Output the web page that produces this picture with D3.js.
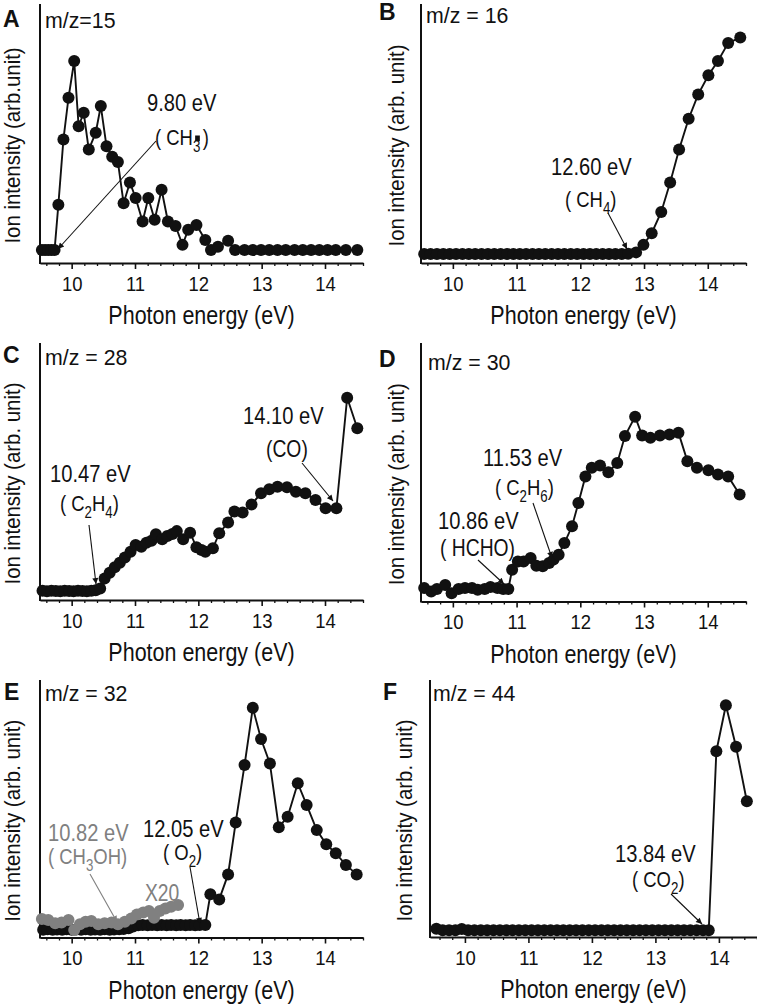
<!DOCTYPE html>
<html><head><meta charset="utf-8">
<script src="https://cdn.jsdelivr.net/npm/d3@7"></script>
<style>body{margin:0;background:#fff}svg{display:block}</style>
</head><body>
<svg id="chart" width="757" height="1008"></svg>
<script>
// ---------------- data ----------------
const xTicks = [10, 11, 12, 13, 14];
const xMinorTicks = [9.6, 9.8, 10.2, 10.4, 10.6, 10.8, 11.2, 11.4, 11.6, 11.8, 12.2, 12.4, 12.6, 12.8, 13.2, 13.4, 13.6, 13.8, 14.2, 14.4, 14.6];

const energyA = [9.53, 9.58, 9.63, 9.68, 9.73, 9.79, 9.87, 9.95, 10.04, 10.11, 10.19, 10.27, 10.38, 10.46, 10.55, 10.64, 10.73, 10.82, 10.92, 11.01, 11.12, 11.21, 11.31, 11.42, 11.52, 11.64, 11.75, 11.84, 11.97, 12.11, 12.20, 12.31, 12.47, 12.58, 12.73, 12.86, 12.99, 13.12, 13.25, 13.38, 13.52, 13.65, 13.78, 13.91, 14.04, 14.17, 14.33, 14.51];
const intensityA = [5, 5, 5, 5, 5, 22.5, 47.7, 63.8, 78.0, 52.8, 58.0, 43.8, 50.3, 60.6, 45.1, 41.0, 39.0, 23.1, 31.1, 25.1, 16.0, 25.1, 16.7, 28.3, 16.0, 14.3, 7.0, 12.8, 14.7, 8.9, 5.0, 6.3, 8.6, 5, 5, 5, 5, 5, 5, 5, 5, 5, 5, 5, 5, 5, 5, 5];

const energyB = [9.55, 9.65, 9.75, 9.85, 9.95, 10.05, 10.15, 10.25, 10.35, 10.45, 10.55, 10.65, 10.75, 10.85, 10.95, 11.05, 11.15, 11.25, 11.35, 11.45, 11.55, 11.65, 11.75, 11.85, 11.95, 12.05, 12.15, 12.25, 12.35, 12.45, 12.55, 12.65, 12.75, 12.875, 12.99, 13.12, 13.27, 13.41, 13.55, 13.70, 13.85, 14.01, 14.16, 14.32, 14.51];
const intensityB = [3.5, 3.5, 3.5, 3.5, 3.5, 3.5, 3.5, 3.5, 3.5, 3.5, 3.5, 3.5, 3.5, 3.5, 3.5, 3.5, 3.5, 3.5, 3.5, 3.5, 3.5, 3.5, 3.5, 3.5, 3.5, 3.5, 3.5, 3.5, 3.5, 3.5, 3.5, 3.5, 3.6, 4.1, 7.0, 11.5, 19.7, 31.1, 43.8, 55.7, 65.1, 72.5, 78.0, 84.9, 87.1];

const energyC = [9.54, 9.61, 9.68, 9.75, 9.82, 9.89, 9.96, 10.03, 10.10, 10.17, 10.24, 10.31, 10.38, 10.45, 10.52, 10.60, 10.68, 10.76, 10.84, 10.93, 11.01, 11.10, 11.18, 11.26, 11.33, 11.43, 11.51, 11.59, 11.66, 11.76, 11.87, 11.97, 12.05, 12.11, 12.23, 12.33, 12.47, 12.57, 12.70, 12.84, 12.99, 13.12, 13.25, 13.40, 13.54, 13.69, 13.85, 14.01, 14.18, 14.35, 14.51];
const intensityC = [3.6, 3.4, 3.6, 3.5, 3.4, 3.6, 3.5, 3.4, 3.6, 3.5, 3.4, 3.6, 3.8, 4.5, 8.4, 10.6, 12.7, 14.5, 16.5, 18.8, 21.4, 20.7, 22.3, 23.1, 25.6, 23.6, 24.9, 25.7, 26.8, 23.6, 26.2, 20.5, 19.5, 18.8, 20.1, 26.0, 30.2, 34.4, 34.0, 37.2, 41.5, 43.1, 44.1, 43.9, 42.1, 41.5, 38.9, 35.7, 35.7, 78.7, 66.8];

const energyD = [9.55, 9.66, 9.75, 9.88, 9.98, 10.09, 10.19, 10.30, 10.39, 10.50, 10.59, 10.70, 10.79, 10.87, 10.93, 11.02, 11.11, 11.22, 11.31, 11.41, 11.51, 11.58, 11.66, 11.75, 11.87, 11.97, 12.08, 12.18, 12.31, 12.44, 12.58, 12.70, 12.86, 12.97, 13.10, 13.25, 13.40, 13.54, 13.68, 13.83, 14.01, 14.16, 14.32, 14.50];
const intensityD = [5.2, 3.9, 4.8, 6.4, 3.2, 4.8, 5.2, 5.2, 4.5, 4.8, 5.6, 5.2, 4.8, 4.8, 12.3, 15.5, 15.5, 16.8, 13.8, 13.6, 14.9, 16.2, 18.1, 22.6, 29.1, 38.1, 48.4, 51.7, 52.6, 50.0, 53.6, 64.0, 71.5, 64.2, 63.3, 64.2, 64.6, 65.3, 54.3, 51.7, 50.8, 49.1, 48.4, 41.4];

const energyE = [9.55, 9.62, 9.70, 9.77, 9.85, 9.92, 10.00, 10.07, 10.15, 10.22, 10.30, 10.37, 10.45, 10.52, 10.60, 10.67, 10.75, 10.82, 10.90, 10.97, 11.05, 11.12, 11.20, 11.27, 11.35, 11.42, 11.50, 11.57, 11.65, 11.72, 11.80, 11.87, 11.95, 12.02, 12.11, 12.19, 12.33, 12.47, 12.59, 12.73, 12.86, 12.99, 13.13, 13.27, 13.41, 13.57, 13.71, 13.87, 14.02, 14.17, 14.33, 14.50];
const intensityE = [3.0, 3.2, 3.0, 3.1, 3.0, 3.2, 3.0, 3.1, 3.0, 3.2, 3.0, 3.1, 3.0, 3.2, 3.0, 3.1, 3.2, 3.3, 3.6, 4.3, 4.8, 4.9, 4.8, 4.9, 4.8, 4.9, 4.8, 4.9, 4.8, 4.9, 4.8, 4.9, 4.8, 4.9, 4.9, 16.8, 14.8, 24.5, 44.7, 67.0, 89.2, 77.1, 67.6, 42.8, 46.9, 59.9, 51.5, 41.7, 36.2, 32.7, 28.2, 24.5];

const energyEx20 = [9.53, 9.63, 9.74, 9.84, 9.95, 10.04, 10.13, 10.22, 10.31, 10.42, 10.52, 10.63, 10.73, 10.84, 10.94, 11.03, 11.13, 11.22, 11.30, 11.39, 11.48, 11.57, 11.68];
const intensityEx20 = [7.2, 6.8, 5.5, 5.8, 6.8, 2.9, 5.1, 6.1, 6.4, 5.1, 5.5, 5.8, 5.1, 6.1, 7.4, 8.9, 9.7, 10.3, 7.7, 10.3, 11.3, 11.9, 12.6];

const energyF = [9.55, 9.65, 9.75, 9.85, 9.95, 10.05, 10.15, 10.25, 10.35, 10.45, 10.55, 10.65, 10.75, 10.85, 10.95, 11.05, 11.15, 11.25, 11.35, 11.45, 11.55, 11.65, 11.75, 11.85, 11.95, 12.05, 12.15, 12.25, 12.35, 12.45, 12.55, 12.65, 12.75, 12.85, 12.95, 13.05, 13.15, 13.25, 13.35, 13.45, 13.55, 13.65, 13.75, 13.84, 13.96, 14.11, 14.27, 14.44];
const intensityF = [3.2, 2.6, 2.6, 2.6, 3.1, 2.6, 2.6, 2.6, 2.6, 2.6, 2.6, 2.6, 2.6, 2.6, 2.6, 2.6, 2.6, 2.6, 2.6, 2.6, 2.6, 2.6, 2.6, 2.6, 2.6, 2.6, 2.6, 2.6, 2.6, 2.6, 2.6, 2.6, 2.6, 2.6, 2.6, 2.6, 2.6, 2.6, 2.6, 2.6, 2.6, 2.6, 2.6, 2.6, 72.3, 90.2, 74.0, 52.8];

// ---------------- drawing ----------------
const svg = d3.select('#chart');
const FONT = 'Liberation Sans, Arial, Helvetica, sans-serif';
const BLACK = '#111';
const GRAY = '#808080';

const defs = svg.append('defs');
[['arrBlack', BLACK], ['arrGray', GRAY]].forEach(([id, c]) => {
  defs.append('marker').attr('id', id).attr('viewBox', '0 0 10 10')
    .attr('refX', 10).attr('refY', 5).attr('markerWidth', 9).attr('markerHeight', 6)
    .attr('markerUnits', 'userSpaceOnUse').attr('orient', 'auto')
    .append('path').attr('d', 'M0,0 L10,5 L0,10 Z').attr('fill', c);
});

function label(g, x, y, parts, opt) {
  const o = Object.assign({size: 24, sx: 0.84, fill: BLACK, anchor: 'start', weight: 'normal', rotate: 0}, opt || {});
  const holder = g.append('g')
    .attr('transform', `translate(${x},${y}) rotate(${o.rotate}) scale(${o.sx},1)`);
  const t = holder.append('text')
    .attr('font-family', FONT).attr('font-size', o.size).attr('font-weight', o.weight)
    .attr('fill', o.fill).attr('text-anchor', o.anchor);
  if (typeof parts === 'string') { t.text(parts); return {holder, t}; }
  let off = 0;
  parts.forEach(p => {
    const target = p.sub ? 7 : 0;
    const s = t.append('tspan').text(p.t).attr('dy', target - off);
    if (p.sub) s.attr('font-size', o.size * 0.72);
    if (p.dx) s.attr('dx', p.dx);
    off = target;
  });
  return {holder, t};
}

function arrow(g, x1, y1, x2, y2, color) {
  g.append('line').attr('x1', x1).attr('y1', y1).attr('x2', x2).attr('y2', y2)
    .attr('stroke', color || BLACK).attr('stroke-width', 1.1)
    .attr('marker-end', `url(#${color === GRAY ? 'arrGray' : 'arrBlack'})`);
}

const panels = [
  {tag: 'A', mz: 'm/z=15', ytitle: 'Ion intensity (arb.unit)', series: [[energyA, intensityA, BLACK]],
   x0: 40, x1: 363, dom: [9.5, 14.6], yb: 263, yt: 4, tagPos: [3, 27], mzPos: [45, 28], yTitleX: 20,
   notes: g => {
     label(g, 147, 111, '9.80 eV');
     const lab = label(g, 155, 145, [{t: '( CH'}, {t: '3', sub: true}, {t: ')', dx: 3}], {size: 22});
     // radical dot above the subscript 3
     const node = lab.t.node();
     const s = node.getStartPositionOfChar(4).x, e = node.getEndPositionOfChar(4).x;
     const cx = (s + e) / 2 + 1;
     lab.holder.append('rect').attr('x', cx - 2.8).attr('y', -9.5).attr('width', 5.6).attr('height', 5.6).attr('fill', BLACK);
     arrow(g, 156, 141, 58, 249);
   }},
  {tag: 'B', mz: 'm/z = 16', ytitle: 'Ion intensity (arb. unit)', series: [[energyB, intensityB, BLACK]],
   x0: 421, x1: 746, dom: [9.5, 14.6], yb: 263, yt: 4, tagPos: [379, 20], mzPos: [426, 23], yTitleX: 404,
   notes: g => {
     label(g, 551, 175, '12.60 eV');
     label(g, 565, 207, [{t: '( CH'}, {t: '4', sub: true}, {t: ')'}], {size: 22});
     arrow(g, 608, 213, 627, 249);
   }},
  {tag: 'C', mz: 'm/z = 28', ytitle: 'Ion intensity (arb. unit)', series: [[energyC, intensityC, BLACK]],
   x0: 40, x1: 363, dom: [9.5, 14.6], yb: 600, yt: 343, tagPos: [3, 363], mzPos: [45, 365], yTitleX: 20,
   notes: g => {
     label(g, 50, 482, '10.47 eV');
     label(g, 60, 511, [{t: '( C'}, {t: '2', sub: true}, {t: 'H'}, {t: '4', sub: true}, {t: ')'}], {size: 22});
     arrow(g, 89, 525, 96, 584);
     label(g, 243, 424, '14.10 eV');
     label(g, 266, 457, '(CO)', {size: 23});
     arrow(g, 302, 463, 333, 501);
   }},
  {tag: 'D', mz: 'm/z = 30', ytitle: 'Ion intensity (arb. unit)', series: [[energyD, intensityD, BLACK]],
   x0: 421, x1: 746, dom: [9.5, 14.6], yb: 601.5, yt: 343, tagPos: [379, 367], mzPos: [428, 370], yTitleX: 404,
   notes: g => {
     label(g, 483, 466, '11.53 eV');
     label(g, 495, 495, [{t: '( C'}, {t: '2', sub: true}, {t: 'H'}, {t: '6', sub: true}, {t: ')'}], {size: 22});
     arrow(g, 533, 503, 552, 558);
     label(g, 438, 529, '10.86 eV');
     label(g, 440, 556, '( HCHO)', {size: 23});
     arrow(g, 478, 560, 504, 584);
   }},
  {tag: 'E', mz: 'm/z = 32', ytitle: 'Ion intensity (arb. unit)', series: [[energyE, intensityE, BLACK], [energyEx20, intensityEx20, GRAY]],
   x0: 40, x1: 363, dom: [9.5, 14.6], yb: 937.5, yt: 680, tagPos: [4, 700], mzPos: [45, 701], yTitleX: 20,
   notes: g => {
     label(g, 48, 841, '10.82 eV', {fill: GRAY});
     label(g, 48, 864, [{t: '( CH'}, {t: '3', sub: true}, {t: 'OH)'}], {size: 22, fill: GRAY});
     arrow(g, 90, 874, 117, 922, GRAY);
     label(g, 145, 901, 'X20', {fill: GRAY, size: 23});
     label(g, 143, 837, '12.05 eV');
     label(g, 163, 860, [{t: '( O'}, {t: '2', sub: true}, {t: ')'}], {size: 22});
     arrow(g, 190, 867, 200, 924);
   }},
  {tag: 'F', mz: 'm/z = 44', ytitle: 'Ion intensity (arb. unit)', series: [[energyF, intensityF, BLACK]],
   x0: 430, x1: 757, dom: [9.45, 14.6], yb: 937, yt: 680, tagPos: [383, 700], mzPos: [433, 701], yTitleX: 412,
   notes: g => {
     label(g, 615, 862, '13.84 eV');
     label(g, 632, 887, [{t: '( CO'}, {t: '2', sub: true}, {t: ')'}], {size: 22});
     arrow(g, 671, 894, 702, 924);
   }}
];

panels.forEach(p => {
  const g = svg.append('g');
  const x = d3.scaleLinear().domain(p.dom).range([p.x0, p.x1]);
  const y = d3.scaleLinear().domain([0, 100]).range([p.yb, p.yt]);

  // minor ticks
  const minor = g.append('g').attr('transform', `translate(0,${p.yb})`)
    .call(d3.axisBottom(x).tickValues(xMinorTicks.filter(v => v >= p.dom[0] && v <= p.dom[1]))
      .tickSize(3).tickSizeOuter(0).tickFormat(''));
  minor.select('.domain').remove();
  minor.selectAll('line').attr('stroke', BLACK).attr('stroke-width', 1.3);

  // major ticks + domain
  const major = g.append('g').attr('transform', `translate(0,${p.yb})`)
    .call(d3.axisBottom(x).tickValues(xTicks).tickSize(6).tickSizeOuter(0).tickFormat(d3.format('d')));
  major.select('.domain').attr('stroke', BLACK).attr('stroke-width', 2);
  major.selectAll('.tick line').attr('stroke', BLACK).attr('stroke-width', 1.6);
  major.selectAll('.tick text').attr('y', 28).attr('dy', 0)
    .attr('font-family', FONT).attr('font-size', 21).attr('fill', BLACK)
    .attr('transform', 'scale(0.88,1)');

  // y axis line
  g.append('line').attr('x1', p.x0).attr('x2', p.x0).attr('y1', p.yt).attr('y2', p.yb + 1)
    .attr('stroke', BLACK).attr('stroke-width', 2);

  // series
  p.series.forEach(([ex, iy, col]) => {
    const pts = ex.map((e, i) => [e, iy[i]]);
    g.append('path').datum(pts)
      .attr('d', d3.line().x(d => x(d[0])).y(d => y(d[1])))
      .attr('fill', 'none').attr('stroke', col).attr('stroke-width', 1.9);
    g.append('g').selectAll('circle').data(pts).join('circle')
      .attr('cx', d => x(d[0])).attr('cy', d => y(d[1])).attr('r', 6).attr('fill', col);
  });

  // titles
  label(g, (p.x0 + p.x1) / 2, p.yb + 61, 'Photon energy (eV)', {size: 25, sx: 0.86, anchor: 'middle'});
  label(g, p.yTitleX, (p.yt + p.yb) / 2 + 12, p.ytitle, {size: 21.5, sx: 0.95, anchor: 'middle', rotate: -90});
  label(g, p.tagPos[0], p.tagPos[1], p.tag, {size: 23, sx: 1, weight: 'bold'});
  label(g, p.mzPos[0], p.mzPos[1], p.mz, {size: 22, sx: 0.97});
  p.notes(g);
});
</script>
</body></html>
